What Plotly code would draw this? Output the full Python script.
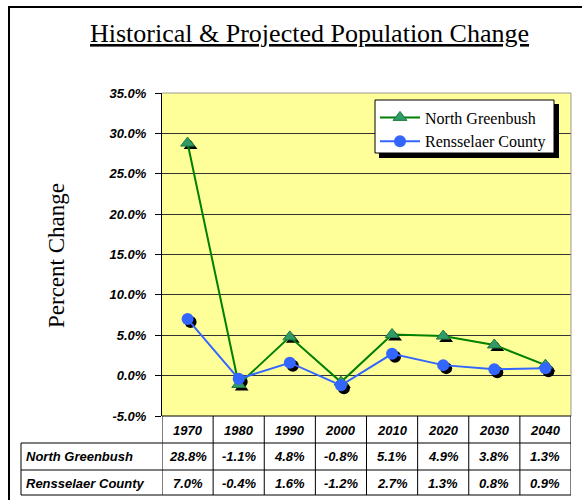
import plotly.graph_objects as go

years = ["1970", "1980", "1990", "2000", "2010", "2020", "2030", "2040"]
north_greenbush = [28.8, -1.1, 4.8, -0.8, 5.1, 4.9, 3.8, 1.3]
rensselaer_county = [7.0, -0.4, 1.6, -1.2, 2.7, 1.3, 0.8, 0.9]
series_names = ["North Greenbush", "Rensselaer County"]
y_ticks = [-5, 0, 5, 10, 15, 20, 25, 30, 35]

W, H = 582, 500
L, R, T, B = 162, 571, 93, 416


def px(x):
    return (x - L) / (R - L)


def py(y):
    return (B - y) / (B - T)


ymin, ymax = -5, 35
ppu_y = (B - T) / (ymax - ymin)
ppu_x = (R - L) / len(years)
sh = 3
dx = sh / ppu_x
dy = sh / ppu_y

serif = "Liberation Serif"
sans = "Liberation Sans"

fig = go.Figure()

# marker shadows
fig.add_trace(go.Scatter(x=years, y=north_greenbush, mode="markers", xaxis="x2", yaxis="y2",
                         marker=dict(symbol="triangle-up", size=12, color="black"),
                         showlegend=False, hoverinfo="skip"))
fig.add_trace(go.Scatter(x=years, y=rensselaer_county, mode="markers", xaxis="x2", yaxis="y2",
                         marker=dict(symbol="circle", size=12, color="black"),
                         showlegend=False, hoverinfo="skip"))
# main series
fig.add_trace(go.Scatter(x=years, y=north_greenbush, mode="lines+markers", name=series_names[0],
                         xaxis="x3", yaxis="y3",
                         line=dict(color="#008000", width=2),
                         marker=dict(symbol="triangle-up", size=12, color="#339966",
                                     line=dict(color="#1f7a45", width=1))))
fig.add_trace(go.Scatter(x=years, y=rensselaer_county, mode="lines+markers", name=series_names[1],
                         xaxis="x3", yaxis="y3",
                         line=dict(color="#3366FF", width=2),
                         marker=dict(symbol="circle", size=12, color="#3366FF")))

shapes = []
# outer border
shapes.append(dict(type="rect", xref="paper", yref="paper", x0=px(9), x1=px(620), y0=py(7), y1=py(540),
                   line=dict(color="black", width=2), layer="below"))
# plot frame (top/right gray)
shapes.append(dict(type="line", xref="paper", yref="paper", x0=0, x1=1, y0=1, y1=1,
                   line=dict(color="#999999", width=1)))
shapes.append(dict(type="line", xref="paper", yref="paper", x0=1, x1=1, y0=0, y1=1,
                   line=dict(color="#999999", width=1)))
# data table lines
row_lines = [443, 470, 495]
shapes.append(dict(type="line", xref="paper", yref="paper", x0=0, x1=1, y0=0, y1=0,
                   line=dict(color="black", width=1)))
for yl in row_lines:
    shapes.append(dict(type="line", xref="paper", yref="paper", x0=px(21), x1=1, y0=py(yl), y1=py(yl),
                       line=dict(color="black", width=1)))
shapes.append(dict(type="line", xref="paper", yref="paper", x0=px(21), x1=px(21), y0=py(443), y1=py(495),
                   line=dict(color="black", width=1)))
for i in range(len(years) + 1):
    shapes.append(dict(type="line", xref="x", yref="paper", x0=i - 0.5, x1=i - 0.5, y0=0, y1=py(495),
                       line=dict(color="black", width=1)))
# legend box with drop shadow
shapes.append(dict(type="rect", xref="paper", yref="paper", x0=px(379), x1=px(559), y0=py(104), y1=py(158),
                   fillcolor="black", line=dict(width=0), layer="above"))
shapes.append(dict(type="rect", xref="paper", yref="paper", x0=px(375), x1=px(554), y0=py(100), y1=py(153),
                   fillcolor="white", line=dict(color="black", width=1), layer="above"))

cell_font = dict(family=sans, size=13, color="black", weight="bold", style="italic")
ann = []
ann.append(dict(text="<u>Historical & Projected Population Change</u>", xref="paper", yref="paper",
                x=px(309), y=py(34), xanchor="center", yanchor="middle", showarrow=False,
                font=dict(family=serif, size=26, color="black")))
ann.append(dict(text="Percent Change", xref="paper", yref="paper", x=px(56), y=py(256), textangle=-90,
                xanchor="center", yanchor="middle", showarrow=False,
                font=dict(family=serif, size=23, color="black")))
for i, yr in enumerate(years):
    ann.append(dict(text=yr, xref="x", yref="paper", x=i, y=py(430), showarrow=False,
                    xanchor="center", yanchor="middle", font=cell_font))
    ann.append(dict(text=f"{north_greenbush[i]:.1f}%", xref="x", yref="paper", x=i, y=py(457),
                    showarrow=False, xanchor="center", yanchor="middle", font=cell_font))
    ann.append(dict(text=f"{rensselaer_county[i]:.1f}%", xref="x", yref="paper", x=i, y=py(483),
                    showarrow=False, xanchor="center", yanchor="middle", font=cell_font))
for name, yc in zip(series_names, [457, 483]):
    ann.append(dict(text=name, xref="paper", yref="paper", x=px(24), y=py(yc), showarrow=False,
                    xanchor="left", yanchor="middle", font=cell_font))

xr = [-0.5, len(years) - 0.5]
fig.update_layout(
    width=W, height=H,
    margin=dict(l=L, r=W - R, t=T, b=H - B, pad=0),
    paper_bgcolor="white",
    plot_bgcolor="#FFFF99",
    showlegend=True,
    legend=dict(x=px(375), y=py(100.5), xanchor="left", yanchor="top", bgcolor="rgba(0,0,0,0)",
                borderwidth=0,
                font=dict(family=serif, size=16, color="black"),
                tracegroupgap=0, itemwidth=40),
    xaxis=dict(type="category", categoryorder="array", categoryarray=years, range=xr,
               showticklabels=False, showgrid=False, zeroline=False, showline=False, ticks=""),
    yaxis=dict(range=[ymin, ymax], tickvals=y_ticks, ticktext=[f"{v:.1f}%" for v in y_ticks],
               showgrid=True, gridcolor="#333333", gridwidth=1, zeroline=False,
               showline=True, linecolor="black", linewidth=1,
               ticks="outside", ticklen=6, tickcolor="black", ticklabelstandoff=6,
               tickfont=dict(family=sans, size=13, color="black", weight="bold", style="italic")),
    xaxis2=dict(type="category", categoryorder="array", categoryarray=years, overlaying="x",
                range=[xr[0] - dx, xr[1] - dx], visible=False),
    yaxis2=dict(overlaying="y", range=[ymin + dy, ymax + dy], visible=False),
    xaxis3=dict(type="category", categoryorder="array", categoryarray=years, overlaying="x",
                range=xr, visible=False),
    yaxis3=dict(overlaying="y", range=[ymin, ymax], visible=False),
    shapes=shapes,
    annotations=ann,
)

fig.write_html("out.html", config={"displayModeBar": False},
               post_script="document.body.style.margin='0';document.body.style.padding='0';")
